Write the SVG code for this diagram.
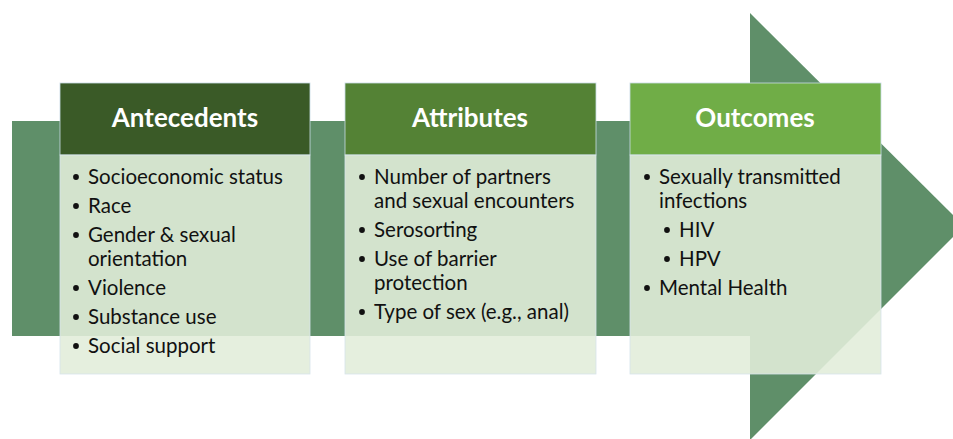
<svg xmlns="http://www.w3.org/2000/svg" width="953" height="439" viewBox="0 0 953 439">
  <style>
    .arrow { fill: #5f8f69; }
    .head { stroke: #c9dbe6; stroke-width: 0.8; }
    .body { fill: #e2eddA; fill-opacity: 0.89; stroke: #d6e4ea; stroke-width: 0.8; }
    .title { font-family: Lato, "Open Sans", sans-serif; font-weight: bold; font-size: 26px; fill: #ffffff; text-anchor: middle; }
    .item { font-family: Lato, "Open Sans", sans-serif; font-size: 20.5px; fill: #111111; }
    .dot { fill: #111111; }
  </style>

  <!-- Background process arrow: shaft and head -->
  <g id="arrow">
    <rect class="arrow" x="12" y="121" width="740" height="215"/>
    <polygon class="arrow" points="750,13 964,226 750,440"/>
  </g>

  <!-- Antecedents -->
  <g id="antecedents">
    <rect class="head" x="60" y="83" width="250" height="72" fill="#3a5a27"/>
    <text class="title" x="185" y="127">Antecedents</text>
    <rect class="body" x="60" y="155" width="250" height="219"/>
    <circle class="dot" cx="76" cy="177" r="2.9"/><text class="item" x="88" y="184">Socioeconomic status</text>
    <circle class="dot" cx="76" cy="206" r="2.9"/><text class="item" x="88" y="213">Race</text>
    <circle class="dot" cx="76" cy="235" r="2.9"/><text class="item" x="88" y="242">Gender &amp; sexual</text>
    <text class="item" x="88" y="266">orientation</text>
    <circle class="dot" cx="76" cy="288" r="2.9"/><text class="item" x="88" y="295">Violence</text>
    <circle class="dot" cx="76" cy="317" r="2.9"/><text class="item" x="88" y="324">Substance use</text>
    <circle class="dot" cx="76" cy="346" r="2.9"/><text class="item" x="88" y="353">Social support</text>
  </g>

  <!-- Attributes -->
  <g id="attributes">
    <rect class="head" x="345" y="83" width="251" height="72" fill="#548235"/>
    <text class="title" x="470" y="127">Attributes</text>
    <rect class="body" x="345" y="155" width="251" height="219"/>
    <circle class="dot" cx="362" cy="177" r="2.9"/><text class="item" x="374" y="184">Number of partners</text>
    <text class="item" x="374" y="208">and sexual encounters</text>
    <circle class="dot" cx="362" cy="230" r="2.9"/><text class="item" x="374" y="237">Serosorting</text>
    <circle class="dot" cx="362" cy="259" r="2.9"/><text class="item" x="374" y="266">Use of barrier</text>
    <text class="item" x="374" y="290">protection</text>
    <circle class="dot" cx="362" cy="312" r="2.9"/><text class="item" x="374" y="319">Type of sex (e.g., anal)</text>
  </g>

  <!-- Outcomes -->
  <g id="outcomes">
    <rect class="head" x="630" y="83" width="251" height="72" fill="#70ad47"/>
    <text class="title" x="755" y="127">Outcomes</text>
    <rect class="body" x="630" y="155" width="251" height="219"/>
    <circle class="dot" cx="647" cy="177" r="2.9"/><text class="item" x="659" y="184">Sexually transmitted</text>
    <text class="item" x="659" y="208">infections</text>
    <circle class="dot" cx="667" cy="230" r="2.9"/><text class="item" x="679" y="237">HIV</text>
    <circle class="dot" cx="667" cy="259" r="2.9"/><text class="item" x="679" y="266">HPV</text>
    <circle class="dot" cx="647" cy="288" r="2.9"/><text class="item" x="659" y="295">Mental Health</text>
  </g>
</svg>
